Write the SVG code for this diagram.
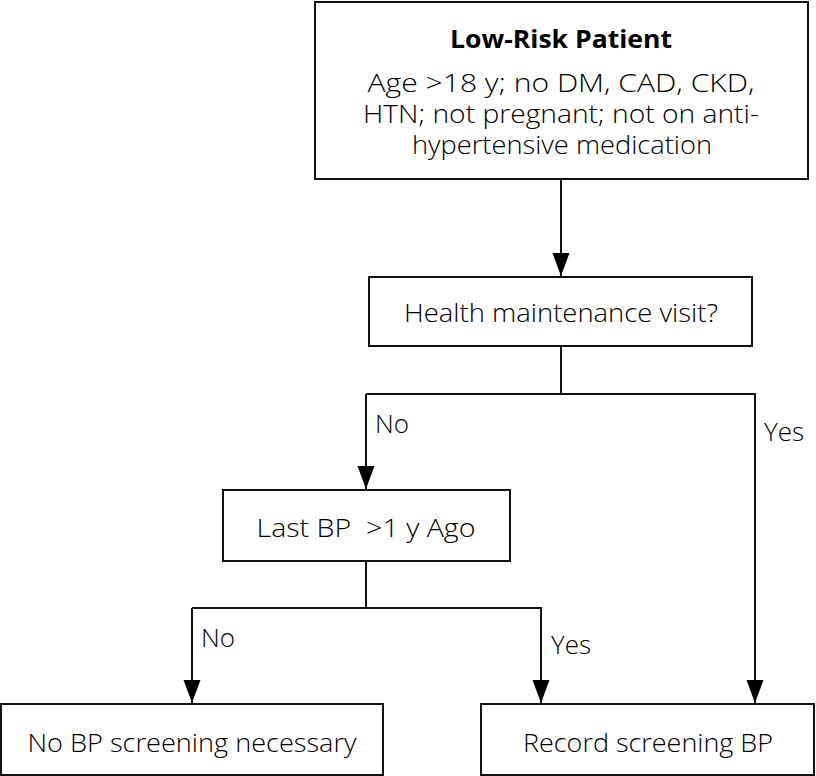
<svg xmlns="http://www.w3.org/2000/svg" width="816" height="776" viewBox="0 0 816 776">
<defs>
<style>
.box{fill:#fff;stroke:#111;stroke-width:2}
.t{font-family:"Open Sans","Liberation Sans",sans-serif;font-size:25px;font-weight:300;fill:#000;text-anchor:middle}
.b{font-weight:bold;font-size:25px}
.lbl{font-family:"Open Sans","Liberation Sans",sans-serif;font-size:26px;font-weight:300;fill:#000}
.c{fill:none;stroke:#111;stroke-width:2}
</style>
<marker id="ah" markerUnits="userSpaceOnUse" markerWidth="24" markerHeight="20" viewBox="-23 -10 24 20" refX="0" refY="0" orient="auto">
<path d="M0,0 L-23,-8.5 L-23,8.5 Z" fill="#000"/>
</marker>
</defs>
<rect width="816" height="776" fill="#fff"/>
<g id="connectors">
<line class="c" x1="561" y1="179" x2="561" y2="276" marker-end="url(#ah)"/>
<line class="c" x1="561" y1="346" x2="561" y2="394"/>
<polyline class="c" points="366,394 755,394 755,703" marker-end="url(#ah)"/>
<line class="c" x1="366" y1="394" x2="366" y2="489" marker-end="url(#ah)"/>
<line class="c" x1="366" y1="561" x2="366" y2="608"/>
<polyline class="c" points="192,608 541,608 541,703" marker-end="url(#ah)"/>
<line class="c" x1="192" y1="608" x2="192" y2="703" marker-end="url(#ah)"/>
<text class="lbl" x="375" y="433">No</text>
<text class="lbl" x="764" y="441">Yes</text>
<text class="lbl" x="201" y="647">No</text>
<text class="lbl" x="551" y="654">Yes</text>
</g>
<g id="low-risk">
<rect class="box" x="315" y="2" width="493" height="177"/>
<text class="t b" x="561" y="48" textLength="222" lengthAdjust="spacingAndGlyphs">Low-Risk Patient</text>
<text class="t" x="561" y="92" textLength="387" lengthAdjust="spacingAndGlyphs">Age &gt;18 y; no DM, CAD, CKD,</text>
<text class="t" x="561" y="123" textLength="396" lengthAdjust="spacingAndGlyphs">HTN; not pregnant; not on anti-</text>
<text class="t" x="562" y="154" textLength="300" lengthAdjust="spacingAndGlyphs">hypertensive medication</text>
</g>
<g id="health">
<rect class="box" x="369" y="277" width="383" height="69"/>
<text class="t" x="561" y="322" font-size="27" textLength="314" lengthAdjust="spacingAndGlyphs">Health maintenance visit?</text>
</g>
<g id="lastbp">
<rect class="box" x="223" y="490" width="287" height="71"/>
<text class="t" x="366" y="537" font-size="27" textLength="219" lengthAdjust="spacingAndGlyphs" xml:space="preserve">Last BP  &gt;1 y Ago</text>
</g>
<g id="nobp">
<rect class="box" x="1" y="704" width="382" height="71"/>
<text class="t" x="192" y="752" font-size="29" textLength="329" lengthAdjust="spacingAndGlyphs">No BP screening necessary</text>
</g>
<g id="record">
<rect class="box" x="481" y="704" width="333" height="71"/>
<text class="t" x="648" y="752" font-size="29" textLength="250" lengthAdjust="spacingAndGlyphs">Record screening BP</text>
</g>
</svg>
